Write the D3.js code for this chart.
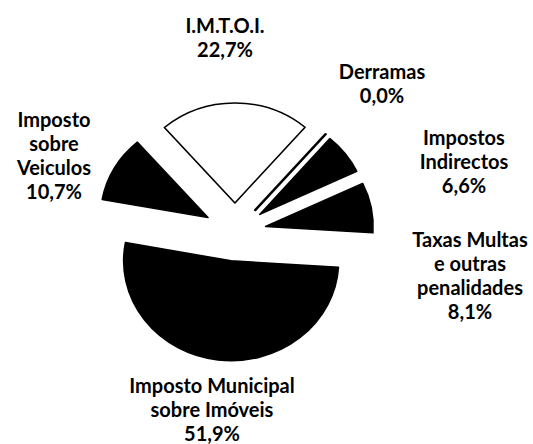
<!DOCTYPE html>
<html>
<head>
<meta charset="utf-8">
<script src="https://cdn.jsdelivr.net/npm/d3@7"></script>
<style>
  body { margin: 0; background: #fff; }
  text { font-family: Lato, "Open Sans", sans-serif; font-size: 20px; font-weight: bold; fill: #000; }
</style>
</head>
<body>
<div id="pie"></div>
<script>
var width = 533;
var height = 444;

// slices, clockwise from the top
var categories = ["I.M.T.O.I.", "Derramas", "Impostos Indirectos", "Taxas Multas e outras penalidades", "Imposto Municipal sobre Imóveis", "Imposto sobre Veiculos"];
var values = [22.7, 0.0, 6.6, 8.1, 51.9, 10.7];
var labels = [
  ["I.M.T.O.I.", "22,7%"],
  ["Derramas", "0,0%"],
  ["Impostos", "Indirectos", "6,6%"],
  ["Taxas Multas", "e outras", "penalidades", "8,1%"],
  ["Imposto Municipal", "sobre Imóveis", "51,9%"],
  ["Imposto", "sobre", "Veiculos", "10,7%"]
];
var fills = ["#fff", "#000", "#000", "#000", "#000", "#000"];

// where each label block sits (centre x, first baseline)
var labelPos = [[225, 33], [382, 79], [464, 145], [470, 247], [212, 393], [54, 127]];

var cx = 235, cy = 232, radius = 100, explode = 29;

var svg = d3.select("#pie")
  .append("svg")
  .attr("width", width)
  .attr("height", height);

var pie = d3.pie()
  .sort(null)
  .startAngle(-41 * Math.PI / 180)
  .endAngle(319 * Math.PI / 180)
  .value(function(d) { return d; });

var arc = d3.arc()
  .innerRadius(0)
  .outerRadius(radius);

var g = svg.append("g")
  .attr("transform", `translate(${cx},${cy}) scale(1.075,1)`);

g.selectAll("path")
  .data(pie(values))
  .enter()
  .append("path")
    .attr("d", arc)
    .attr("transform", function(d) {
      var a = (d.startAngle + d.endAngle) / 2;
      return `translate(${explode * Math.sin(a)},${-explode * Math.cos(a)})`;
    })
    .attr("fill", function(d, i) { return fills[i]; })
    .attr("stroke", "#000")
    .attr("stroke-width", function(d, i) { return values[i] === 0 ? 2.5 : 1.5; })
    .attr("stroke-linejoin", "round");

var lab = svg.selectAll("text.lab")
  .data(labels)
  .enter()
  .append("text")
    .attr("class", "lab")
    .attr("text-anchor", "middle")
    .attr("x", function(d, i) { return labelPos[i][0]; })
    .attr("y", function(d, i) { return labelPos[i][1]; });

lab.selectAll("tspan")
  .data(function(d, i) { return d.map(function(s) { return {s: s, i: i}; }); })
  .enter()
  .append("tspan")
    .attr("x", function(d) { return labelPos[d.i][0]; })
    .attr("dy", function(d, j) { return j === 0 ? 0 : 24; })
    .text(function(d) { return d.s; });
</script>
</body>
</html>
